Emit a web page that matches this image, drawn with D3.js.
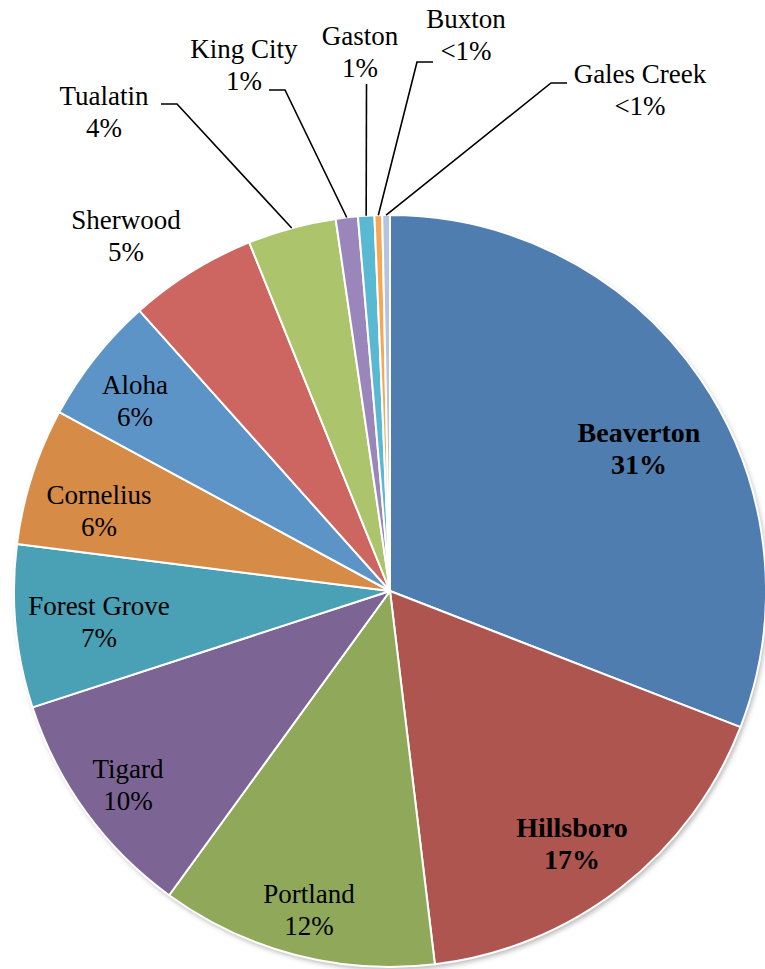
<!DOCTYPE html>
<html>
<head>
<meta charset="utf-8">
<script src="https://cdn.jsdelivr.net/npm/d3@7"></script>
<style>
  html, body { margin: 0; padding: 0; background: #fff; }
  svg { display: block; }
  text { font-family: "Liberation Serif", "Times New Roman", serif; font-size: 27px; fill: #000; }
  text.bold { font-size: 28px; font-weight: bold; }
</style>
</head>
<body>
<svg id="chart" width="765" height="969"></svg>
<script>
// ---- data ----
const categories = ["Beaverton", "Hillsboro", "Portland", "Tigard", "Forest Grove", "Cornelius",
  "Aloha", "Sherwood", "Tualatin", "King City", "Gaston", "Buxton", "Gales Creek"];
const values = [30.9, 17.2, 11.9, 10.0, 7.0, 5.9, 5.5, 5.5, 3.8, 0.95, 0.7, 0.33, 0.33];
const percentLabels = ["31%", "17%", "12%", "10%", "7%", "6%", "6%", "5%", "4%", "1%", "1%", "<1%", "<1%"];
const boldCategories = ["Beaverton", "Hillsboro"];

// ---- styles / layout ----
const colors = ["#4F7DAF", "#AE5550", "#8FA85A", "#7C6595", "#4AA0B4", "#D68B46",
  "#5C94C8", "#CD6660", "#ACC46C", "#9A86BA", "#5AB9D2", "#F9A653", "#B4C4DE"];
const W = 765, H = 969;
const cx = 390, cy = 591, R = 376;
// label placement: [x center, baseline of first line]; leader = start point of leader line (if any)
const labelLayout = {
  "Beaverton":    { pos: [639, 442] },
  "Hillsboro":    { pos: [572, 837] },
  "Portland":     { pos: [309, 903] },
  "Tigard":       { pos: [128, 778] },
  "Forest Grove": { pos: [99, 615] },
  "Cornelius":    { pos: [99, 504] },
  "Aloha":        { pos: [135, 394] },
  "Sherwood":     { pos: [126, 229] },
  "Tualatin":     { pos: [104, 105], leader: [[161, 104], [177, 104]] },
  "King City":    { pos: [244, 58],  leader: [[269, 90], [285, 90]] },
  "Gaston":       { pos: [360, 45],  leader: [[366.5, 84]] },
  "Buxton":       { pos: [466, 28],  leader: [[433, 62], [417, 62]] },
  "Gales Creek":  { pos: [640, 83],  leader: [[567, 83], [551, 83]] }
};
const lineGap = 32;

const data = categories.map((c, i) => ({ name: c, value: values[i], pct: percentLabels[i], color: colors[i] }));

const svg = d3.select("#chart");
const defs = svg.append("defs");
const f = defs.append("filter").attr("id", "shadow").attr("x", "-10%").attr("y", "-10%").attr("width", "120%").attr("height", "120%");
f.append("feDropShadow").attr("dx", 2).attr("dy", 3).attr("stdDeviation", 2.5)
  .attr("flood-color", "#000").attr("flood-opacity", 0.28);

const pie = d3.pie().sort(null).value(d => d.value).startAngle(0).endAngle(2 * Math.PI);
const arcs = pie(data);
const arc = d3.arc().innerRadius(0).outerRadius(R);
const edgeArc = d3.arc().innerRadius(R).outerRadius(R);

const g = svg.append("g").attr("transform", `translate(${cx},${cy})`);

// shadow layer under the pie
g.append("circle").attr("r", R).attr("fill", "#fff").attr("filter", "url(#shadow)");

g.selectAll("path.slice").data(arcs).join("path")
  .attr("class", "slice")
  .attr("d", arc)
  .attr("fill", d => d.data.color)
  .attr("stroke", "#fff")
  .attr("stroke-width", 2)
  .attr("stroke-linejoin", "round");

// leader lines
arcs.forEach(a => {
  const lay = labelLayout[a.data.name];
  if (!lay.leader) return;
  const end = edgeArc.centroid(a);
  const pts = lay.leader.map(p => [p[0], p[1]]).concat([[end[0] + cx, end[1] + cy]]);
  svg.append("path")
    .attr("d", d3.line()(pts))
    .attr("fill", "none")
    .attr("stroke", "#000")
    .attr("stroke-width", 1.6);
});

// labels
arcs.forEach(a => {
  const lay = labelLayout[a.data.name];
  const bold = boldCategories.includes(a.data.name);
  const t = svg.append("text")
    .attr("class", bold ? "bold" : null)
    .attr("text-anchor", "middle");
  t.append("tspan").attr("x", lay.pos[0]).attr("y", lay.pos[1]).text(a.data.name);
  t.append("tspan").attr("x", lay.pos[0]).attr("y", lay.pos[1] + lineGap).text(a.data.pct);
});
</script>
</body>
</html>
